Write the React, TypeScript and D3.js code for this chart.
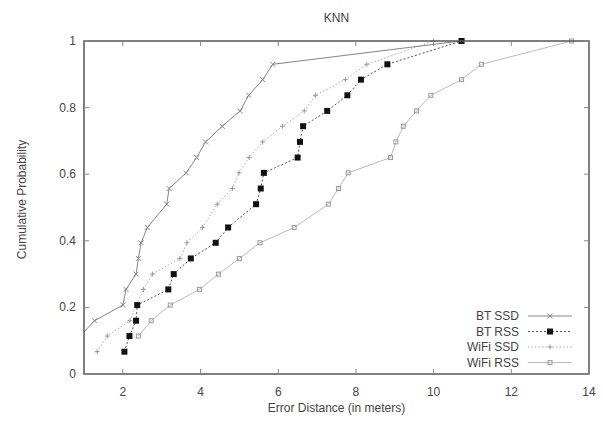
import React, { useRef, useEffect } from "react";
import * as d3 from "d3";

// error distance (m) / cumulative probability
const btSsdX = [0.6, 0.9, 1.27, 2.0, 2.08, 2.34, 2.4, 2.47, 2.63, 3.13, 3.19, 3.63, 3.9, 4.13, 4.56, 5.02, 5.24, 5.6, 5.86, 10.7];
const btSsdY = [0.067, 0.114, 0.16, 0.207, 0.254, 0.3, 0.347, 0.394, 0.44, 0.51, 0.557, 0.604, 0.65, 0.697, 0.744, 0.79, 0.837, 0.884, 0.93, 1.0];

const btRssX = [2.04, 2.17, 2.34, 2.37, 3.17, 3.31, 3.75, 4.39, 4.71, 5.43, 5.55, 5.63, 6.5, 6.56, 6.64, 7.26, 7.78, 8.13, 8.81, 10.72];
const btRssY = [0.067, 0.114, 0.16, 0.207, 0.254, 0.3, 0.347, 0.394, 0.44, 0.51, 0.557, 0.604, 0.65, 0.697, 0.744, 0.79, 0.837, 0.884, 0.93, 1.0];

const wifiSsdX = [1.34, 1.6, 2.18, 2.35, 2.53, 2.76, 3.47, 3.65, 4.05, 4.43, 4.82, 4.99, 5.25, 5.6, 6.11, 6.67, 6.96, 7.73, 8.28, 10.0];
const wifiSsdY = [0.067, 0.114, 0.16, 0.207, 0.254, 0.3, 0.347, 0.394, 0.44, 0.51, 0.557, 0.604, 0.65, 0.697, 0.744, 0.79, 0.837, 0.884, 0.93, 1.0];

const wifiRssX = [2.4, 2.73, 3.22, 3.97, 4.46, 5.0, 5.53, 6.41, 7.29, 7.55, 7.8, 8.89, 9.03, 9.22, 9.56, 9.93, 10.72, 11.23, 13.55];
const wifiRssY = [0.114, 0.16, 0.207, 0.254, 0.3, 0.347, 0.394, 0.44, 0.51, 0.557, 0.604, 0.65, 0.697, 0.744, 0.79, 0.837, 0.884, 0.93, 1.0];

const seriesNames = ["BT SSD", "BT RSS", "WiFi SSD", "WiFi RSS"];
const xTicks = [2, 4, 6, 8, 10, 12, 14];
const yTicks = [0, 0.2, 0.4, 0.6, 0.8, 1];

const App = () => {
  const svgRef = useRef<SVGSVGElement>(null);

  useEffect(() => {
    const width = 603;
    const height = 426;
    const m = { left: 84, right: 14, top: 41, bottom: 52 };
    const font = "'Liberation Sans', Arial, sans-serif";
    const textColor = "#444";

    const svg = d3.select(svgRef.current);
    svg.selectAll("*").remove();

    const x = d3.scaleLinear().domain([1, 14]).range([m.left, width - m.right]);
    const y = d3.scaleLinear().domain([0, 1]).range([height - m.bottom, m.top]);

    svg
      .append("defs")
      .append("clipPath")
      .attr("id", "plotclip")
      .append("rect")
      .attr("x", m.left)
      .attr("y", m.top - 5)
      .attr("width", width - m.left - m.right)
      .attr("height", height - m.top - m.bottom + 5);

    const series = [
      { name: seriesNames[0], xs: btSsdX, ys: btSsdY, color: "#858585", mark: "#858585", dash: null, marker: "x" },
      { name: seriesNames[1], xs: btRssX, ys: btRssY, color: "#555", mark: "#111", dash: "2,2", marker: "fsq" },
      { name: seriesNames[2], xs: wifiSsdX, ys: wifiSsdY, color: "#aaa", mark: "#999", dash: "1.5,2", marker: "+" },
      { name: seriesNames[3], xs: wifiRssX, ys: wifiRssY, color: "#bbb", mark: "#999", dash: null, marker: "sq" },
    ];

    const drawMarker = (g, kind, cx, cy, color) => {
      if (kind === "fsq") {
        g.append("rect").attr("x", cx - 3).attr("y", cy - 3).attr("width", 6).attr("height", 6).attr("fill", color);
      } else if (kind === "sq") {
        g.append("rect").attr("x", cx - 2).attr("y", cy - 2).attr("width", 4).attr("height", 4)
          .attr("fill", "none").attr("stroke", color).attr("stroke-width", 1);
      } else if (kind === "x") {
        g.append("path").attr("d", `M${cx - 2.5},${cy - 2.5}L${cx + 2.5},${cy + 2.5}M${cx - 2.5},${cy + 2.5}L${cx + 2.5},${cy - 2.5}`)
          .attr("stroke", color).attr("stroke-width", 1);
      } else {
        g.append("path").attr("d", `M${cx - 2.5},${cy}L${cx + 2.5},${cy}M${cx},${cy - 2.5}L${cx},${cy + 2.5}`)
          .attr("stroke", color).attr("stroke-width", 1);
      }
    };

    const plot = svg.append("g").attr("clip-path", "url(#plotclip)");

    // draw back to front: WiFi RSS, WiFi SSD, BT SSD, BT RSS
    [3, 2, 0, 1].forEach((k) => {
      const s = series[k];
      const pts = s.xs.map((v, i) => [v, s.ys[i]] as [number, number]);
      const gen = d3.line<[number, number]>().x((d) => x(d[0])).y((d) => y(d[1]));
      plot
        .append("path")
        .attr("d", gen(pts))
        .attr("fill", "none")
        .attr("stroke", s.color)
        .attr("stroke-width", 1)
        .attr("stroke-dasharray", s.dash);
      const mg = plot.append("g");
      pts.forEach((p) => drawMarker(mg, s.marker, x(p[0]), y(p[1]), s.mark));
    });

    // frame
    svg
      .append("rect")
      .attr("x", m.left)
      .attr("y", m.top)
      .attr("width", width - m.left - m.right)
      .attr("height", height - m.top - m.bottom)
      .attr("fill", "none")
      .attr("stroke", "#555")
      .attr("stroke-width", 1.5);

    // ticks
    const tickColor = "#888";
    xTicks.forEach((t) => {
      svg.append("line").attr("x1", x(t)).attr("x2", x(t)).attr("y1", y(0)).attr("y2", y(0) - 5).attr("stroke", tickColor);
      svg.append("line").attr("x1", x(t)).attr("x2", x(t)).attr("y1", y(1)).attr("y2", y(1) + 5).attr("stroke", tickColor);
      svg.append("text").attr("x", x(t)).attr("y", y(0) + 22).attr("text-anchor", "middle")
        .attr("font-family", font).attr("font-size", 12).attr("fill", textColor).text(t);
    });
    yTicks.forEach((t) => {
      svg.append("line").attr("x1", x(1)).attr("x2", x(1) + 5).attr("y1", y(t)).attr("y2", y(t)).attr("stroke", tickColor);
      svg.append("line").attr("x1", x(14)).attr("x2", x(14) - 5).attr("y1", y(t)).attr("y2", y(t)).attr("stroke", tickColor);
      svg.append("text").attr("x", x(1) - 8).attr("y", y(t) + 4).attr("text-anchor", "end")
        .attr("font-family", font).attr("font-size", 12).attr("fill", textColor).text(d3.format("~g")(t));
    });

    // titles
    svg.append("text").attr("x", (x(1) + x(14)) / 2).attr("y", 22).attr("text-anchor", "middle")
      .attr("font-family", font).attr("font-size", 12).attr("fill", textColor).text("KNN");
    svg.append("text").attr("x", (x(1) + x(14)) / 2).attr("y", y(0) + 38).attr("text-anchor", "middle")
      .attr("font-family", font).attr("font-size", 12).attr("fill", textColor).text("Error Distance (in meters)");
    svg.append("text").attr("transform", `translate(26,${(y(0) + y(1)) / 2 - 8}) rotate(-90)`).attr("text-anchor", "middle")
      .attr("font-family", font).attr("font-size", 12).attr("fill", textColor).text("Cumulative Probability");

    // legend
    const lg = svg.append("g");
    series.forEach((s, i) => {
      const ly = 316 + i * 15.5;
      lg.append("text").attr("x", 519).attr("y", ly + 4).attr("text-anchor", "end")
        .attr("font-family", font).attr("font-size", 12).attr("fill", textColor).text(s.name);
      lg.append("line").attr("x1", 528).attr("x2", 572).attr("y1", ly).attr("y2", ly)
        .attr("stroke", s.color).attr("stroke-width", 1).attr("stroke-dasharray", s.dash);
      drawMarker(lg, s.marker, 550, ly, s.mark);
    });
  }, []);

  return (
    <svg
      ref={svgRef}
      width={603}
      height={426}
      style={{ position: "absolute", left: 0, top: 0, background: "#fff" }}
    />
  );
};

export default App;
